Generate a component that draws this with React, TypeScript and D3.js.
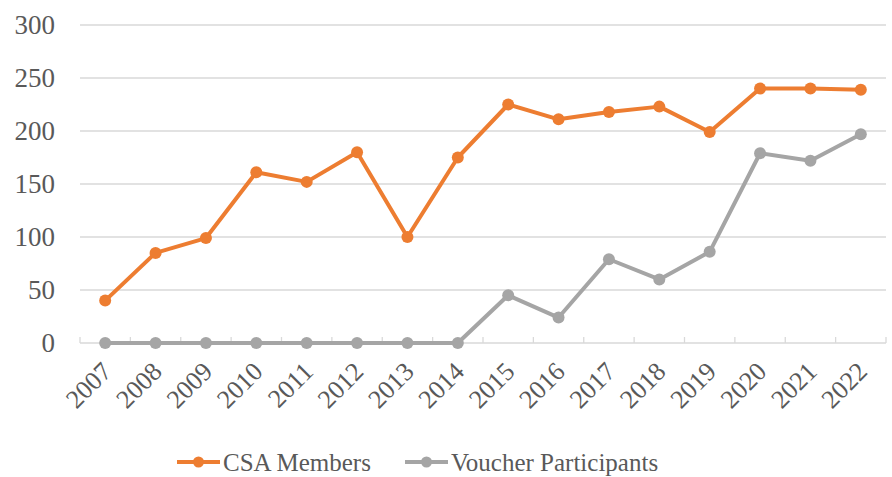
import * as d3 from "d3";

const years = ["2007", "2008", "2009", "2010", "2011", "2012", "2013", "2014", "2015", "2016", "2017", "2018", "2019", "2020", "2021", "2022"];
const csaMembers = [40, 85, 99, 161, 152, 180, 100, 175, 225, 211, 218, 223, 199, 240, 240, 239];
const voucherParticipants = [0, 0, 0, 0, 0, 0, 0, 0, 45, 24, 79, 60, 86, 179, 172, 197];
const yTicks = [0, 50, 100, 150, 200, 250, 300];

const seriesList = [
  { name: "CSA Members", values: csaMembers, color: "#ED7D31" },
  { name: "Voucher Participants", values: voucherParticipants, color: "#A5A5A5" },
];

const width = 892;
const height = 477;
const margin = { top: 25, right: 6, bottom: 134, left: 80 };
const font = "'Times New Roman', Times, Tinos, 'Liberation Serif', 'Noto Serif', 'DejaVu Serif', serif";

const App = () => {
  const x = d3
    .scaleBand()
    .domain(years)
    .range([margin.left, width - margin.right]);
  const y = d3
    .scaleLinear()
    .domain([0, 300])
    .range([height - margin.bottom, margin.top]);
  const cx = (yr: string) => (x(yr) ?? 0) + x.bandwidth() / 2;
  const line = d3
    .line<number>()
    .x((_, i) => cx(years[i]))
    .y((d) => y(d));
  const y0 = y(0);

  return (
    <svg width={width} height={height} style={{ position: "absolute", left: 0, top: 0, fontFamily: font }}>
      {yTicks.slice(1).map((t) => (
        <line key={t} x1={margin.left} x2={width - margin.right} y1={y(t)} y2={y(t)} stroke="#d9d9d9" strokeWidth={1.3} />
      ))}
      <line x1={margin.left} x2={width - margin.right} y1={y0} y2={y0} stroke="#d9d9d9" strokeWidth={1.3} />
      {years.concat([""]).map((yr, i) => {
        const xx = margin.left + i * x.bandwidth();
        return <line key={i} x1={xx} x2={xx} y1={y0} y2={y0 - 6} stroke="#d9d9d9" strokeWidth={1.3} />;
      })}
      {yTicks.map((t) => (
        <text key={t} x={55} y={y(t)} dy="0.34em" textAnchor="end" fontSize={27} fill="#595959">
          {t}
        </text>
      ))}
      {years.map((yr) => (
        <text
          key={yr}
          transform={`translate(${cx(yr) + 8},${y0 + 30}) rotate(-45)`}
          textAnchor="end"
          fontSize={26}
          fill="#595959"
        >
          {yr}
        </text>
      ))}
      {seriesList.map((s) => (
        <g key={s.name}>
          <path d={line(s.values) ?? ""} fill="none" stroke={s.color} strokeWidth={4} strokeLinejoin="round" />
          {s.values.map((v, i) => (
            <circle key={i} cx={cx(years[i])} cy={y(v)} r={6} fill={s.color} />
          ))}
        </g>
      ))}
      {seriesList.map((s, i) => {
        const lx = i === 0 ? 177 : 405;
        return (
          <g key={s.name}>
            <line x1={lx} x2={lx + 43} y1={462} y2={462} stroke={s.color} strokeWidth={4} />
            <circle cx={lx + 21.5} cy={462} r={5.5} fill={s.color} />
            <text x={lx + 46} y={462} dy="0.34em" fontSize={25} fill="#595959">
              {s.name}
            </text>
          </g>
        );
      })}
    </svg>
  );
};

export default App;
